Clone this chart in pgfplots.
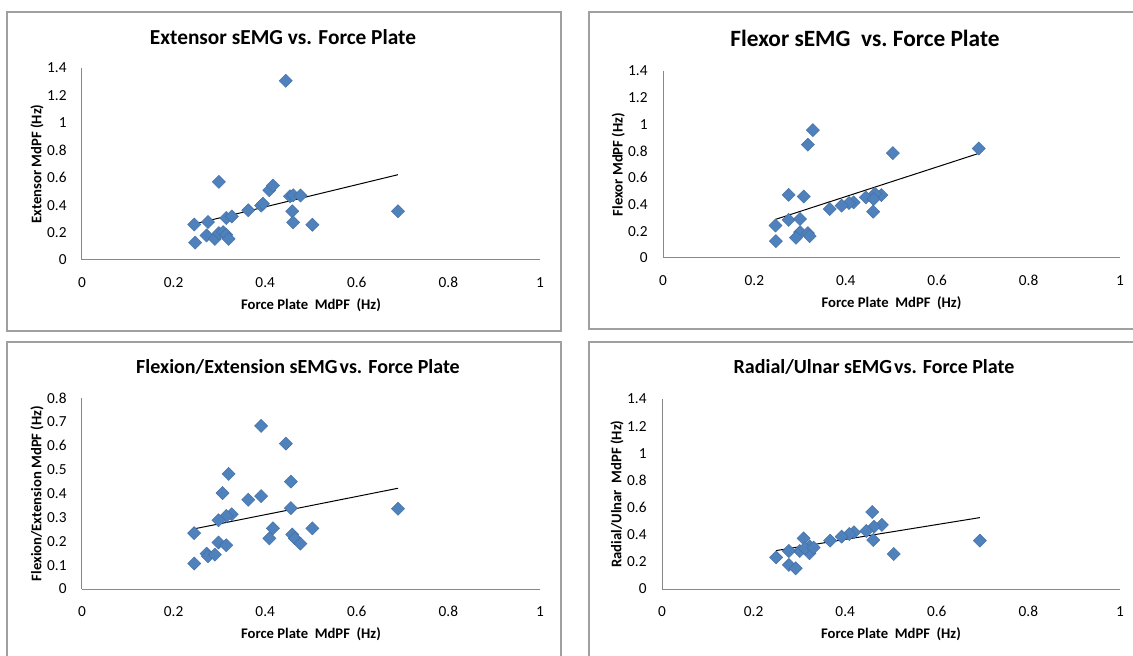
\documentclass[border=0pt]{standalone}
\usepackage{pgfplots}
\pgfplotsset{compat=1.18}
\usepackage{fontspec}
\setmainfont{Carlito}
\definecolor{mk}{HTML}{4F81BD}
\definecolor{ax}{HTML}{888888}
\definecolor{bx}{HTML}{A0A0A0}
\pgfplotsset{
  panel/.style={
    scale only axis,
    axis x line*=bottom, axis y line*=left,
    axis line style={ax, line width=0.75pt},
    xmin=0, xmax=1, ymin=0,
    xtick={0,0.2,...,1},
    major tick length=0,
    /pgf/number format/assume math mode=true,
    tick label style={font=\fontsize{11.5}{13}\selectfont},
    xticklabel style={yshift=-9.5pt},
    yticklabel style={xshift=-8pt},
    label style={font=\fontsize{11}{13}\selectfont\bfseries},
    xlabel style={at={(axis description cs:0.5,0)},anchor=center,yshift=-33.75pt},
    ylabel style={at={(axis description cs:-0.098,0.5)},anchor=center},
    xlabel={Force Plate\ \ MdPF\ \ (Hz)},
    clip=false,
  },
  pts/.style={only marks, mark=square*, mark size=3.5pt, mark options={rotate=45, fill=mk, draw=mk!85!black, line width=0.3pt}},
  trend/.style={black, line width=0.75pt, no marks},
}
\begin{document}
\begin{tikzpicture}
\useasboundingbox[fill=white] (0,0) rectangle (849.75pt,-492pt);
% chart area borders
\draw[bx, line width=0.8pt] (5.25pt,-9pt) rectangle (420.75pt,-248.25pt);
\draw[bx, line width=0.8pt] (441.75pt,-9pt) rectangle (870pt,-246.75pt);
\draw[bx, line width=0.8pt] (5.25pt,-256.5pt) rectangle (420.75pt,-510pt);
\draw[bx, line width=0.8pt] (441.75pt,-256.5pt) rectangle (870pt,-510pt);
% titles
\node[font=\fontsize{16}{19}\selectfont\bfseries] at (212.25pt,-27.75pt) {Extensor sEMG vs. Force Plate};
\node[font=\fontsize{17.5}{20}\selectfont\bfseries] at (648.75pt,-28.5pt) {Flexor sEMG\ \ vs.\ Force Plate};
\node[font=\fontsize{15}{18}\selectfont\bfseries] at (223.5pt,-275.25pt) {Flexion/Extension sEMG\kern0.1em vs. Force Plate};
\node[font=\fontsize{15}{18}\selectfont\bfseries] at (655.5pt,-275.25pt) {Radial/Ulnar sEMG\kern0.1em vs. Force Plate};

% Panel 1
\begin{axis}[panel, at={(61.5pt,-195pt)}, anchor=south west, width=343.5pt, height=144pt,
  ymax=1.4, ytick={0,0.2,...,1.4}, ylabel={Extensor MdPF (Hz)}]
\addplot[pts] coordinates {
(0.445,1.307) (0.299,0.570) (0.409,0.509) (0.417,0.543) (0.454,0.465)
(0.461,0.472) (0.477,0.470) (0.391,0.396) (0.395,0.410) (0.363,0.362)
(0.459,0.355) (0.690,0.355) (0.315,0.306) (0.327,0.318) (0.275,0.277)
(0.245,0.259) (0.461,0.274) (0.503,0.257) (0.272,0.179) (0.290,0.154)
(0.299,0.196) (0.308,0.203) (0.315,0.184) (0.320,0.154) (0.247,0.127)};
\addplot[trend] coordinates {(0.245,0.262) (0.690,0.622)};
\end{axis}

% Panel 2
\begin{axis}[panel, at={(497.25pt,-193.5pt)}, anchor=south west, width=342.75pt, height=140.25pt,
  ymax=1.4, ytick={0,0.2,...,1.4}, ylabel={Flexor MdPF (Hz)}]
\addplot[pts] coordinates {
(0.328,0.957) (0.317,0.848) (0.503,0.786) (0.691,0.820) (0.275,0.473)
(0.308,0.461) (0.478,0.471) (0.464,0.481) (0.444,0.454) (0.461,0.441)
(0.417,0.416) (0.407,0.411) (0.391,0.392) (0.365,0.367) (0.460,0.347)
(0.275,0.285) (0.300,0.292) (0.246,0.243) (0.300,0.193) (0.317,0.186)
(0.321,0.164) (0.291,0.151) (0.247,0.126)};
\addplot[trend] coordinates {(0.247,0.290) (0.689,0.781)};
\end{axis}

% Panel 3
\begin{axis}[panel, at={(61.5pt,-441.75pt)}, anchor=south west, width=343.5pt, height=143.25pt,
  ymax=0.8, ytick={0,0.1,...,0.8}, ylabel={Flexion/Extension MdPF (Hz)}]
\addplot[pts] coordinates {
(0.391,0.683) (0.445,0.609) (0.320,0.482) (0.456,0.450) (0.307,0.402)
(0.391,0.389) (0.363,0.374) (0.456,0.339) (0.690,0.336) (0.327,0.313)
(0.315,0.306) (0.298,0.288) (0.245,0.234) (0.417,0.254) (0.503,0.254)
(0.409,0.212) (0.459,0.228) (0.465,0.212) (0.477,0.190) (0.298,0.195)
(0.315,0.183) (0.272,0.148) (0.275,0.137) (0.290,0.144) (0.245,0.107)};
\addplot[trend] coordinates {(0.245,0.252) (0.690,0.422)};
\end{axis}

% Panel 4
\begin{axis}[panel, at={(496.5pt,-441.75pt)}, anchor=south west, width=343.5pt, height=142.5pt,
  ymax=1.4, ytick={0,0.2,...,1.4}, ylabel={Radial/Ulnar\ \ MdPF (Hz)}]
\addplot[pts] coordinates {
(0.459,0.568) (0.480,0.472) (0.463,0.459) (0.446,0.428) (0.419,0.418)
(0.409,0.405) (0.392,0.386) (0.367,0.356) (0.461,0.361) (0.694,0.356)
(0.309,0.373) (0.323,0.312) (0.301,0.280) (0.322,0.263) (0.277,0.280)
(0.249,0.233) (0.506,0.258) (0.277,0.177) (0.292,0.152) (0.312,0.300)
(0.331,0.305)};
\addplot[trend] coordinates {(0.249,0.283) (0.694,0.526)};
\end{axis}
\end{tikzpicture}
\end{document}
